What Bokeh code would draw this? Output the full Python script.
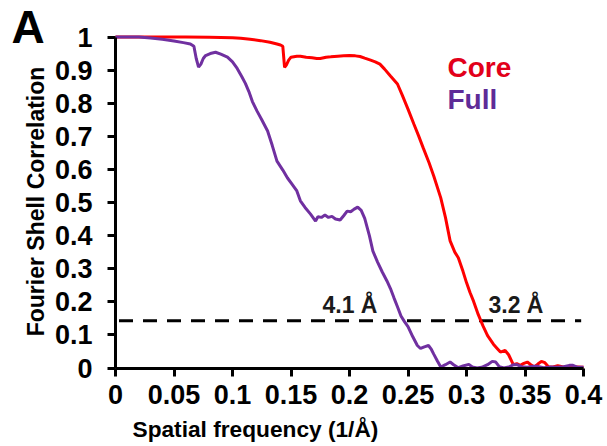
from bokeh.plotting import figure
from bokeh.models import Range1d, FixedTicker, Label
from bokeh.embed import file_html
from bokeh.resources import INLINE
import math

# ---------------- data ----------------
core_x = [0.000, 0.020, 0.040, 0.060, 0.080, 0.100, 0.107, 0.115, 0.124, 0.132, 0.138, 0.141, 0.143,
          0.1445, 0.146, 0.148, 0.150, 0.155, 0.158, 0.163, 0.168, 0.172, 0.175, 0.180, 0.184, 0.190,
          0.195, 0.200, 0.205, 0.209, 0.213, 0.218, 0.222, 0.226, 0.230, 0.235, 0.241, 0.245, 0.250,
          0.255, 0.259, 0.263, 0.268, 0.272, 0.278, 0.282, 0.286, 0.290, 0.293, 0.297, 0.300, 0.303,
          0.306, 0.310, 0.314, 0.318, 0.323, 0.326, 0.329, 0.333, 0.336, 0.340, 0.343, 0.346, 0.349,
          0.352, 0.355, 0.358, 0.361, 0.364, 0.367, 0.370, 0.374, 0.378, 0.382, 0.386, 0.390, 0.395, 0.400]
core_y = [1.000, 1.000, 1.000, 1.000, 0.999, 0.998, 0.996, 0.993, 0.989, 0.984, 0.979, 0.976, 0.972,
          0.908, 0.915, 0.930, 0.939, 0.942, 0.942, 0.939, 0.937, 0.935, 0.935, 0.939, 0.940, 0.942,
          0.943, 0.944, 0.943, 0.941, 0.936, 0.930, 0.925, 0.918, 0.903, 0.882, 0.858, 0.825, 0.782,
          0.737, 0.702, 0.665, 0.620, 0.580, 0.514, 0.455, 0.384, 0.350, 0.333, 0.292, 0.258, 0.228,
          0.202, 0.162, 0.128, 0.098, 0.072, 0.060, 0.048, 0.053, 0.040, 0.010, 0.013, 0.008, 0.014,
          0.018, 0.010, 0.003, 0.012, 0.020, 0.016, 0.004, 0.003, 0.007, 0.004, 0.002, 0.004, 0.003, 0.002]

full_x = [0.000, 0.020, 0.030, 0.040, 0.050, 0.058, 0.064, 0.067, 0.069, 0.071, 0.073, 0.075, 0.077,
          0.081, 0.0855, 0.090, 0.0957, 0.100, 0.104, 0.108, 0.111, 0.114, 0.117, 0.121, 0.125, 0.130,
          0.134, 0.138, 0.143, 0.147, 0.151, 0.155, 0.158, 0.162, 0.1667, 0.171, 0.173, 0.176, 0.179,
          0.182, 0.185, 0.188, 0.192, 0.195, 0.198, 0.201, 0.204, 0.207, 0.210, 0.213, 0.217, 0.220,
          0.224, 0.228, 0.232, 0.235, 0.238, 0.241, 0.244, 0.247, 0.250, 0.254, 0.258, 0.2607, 0.264,
          0.2675, 0.270, 0.272, 0.275, 0.278, 0.282, 0.286, 0.289, 0.293, 0.297, 0.302, 0.305, 0.309,
          0.313, 0.318, 0.322, 0.325, 0.328, 0.332, 0.337, 0.340, 0.343, 0.347, 0.352, 0.357, 0.361,
          0.366, 0.372, 0.378, 0.383, 0.388, 0.391, 0.395, 0.400]
full_y = [1.000, 1.000, 0.997, 0.993, 0.988, 0.983, 0.979, 0.972, 0.935, 0.909, 0.918, 0.935, 0.944,
          0.950, 0.954, 0.948, 0.939, 0.925, 0.905, 0.880, 0.860, 0.835, 0.805, 0.776, 0.750, 0.716,
          0.672, 0.625, 0.598, 0.574, 0.555, 0.535, 0.505, 0.485, 0.465, 0.444, 0.457, 0.455, 0.462,
          0.455, 0.458, 0.450, 0.447, 0.460, 0.474, 0.472, 0.480, 0.486, 0.476, 0.452, 0.400, 0.353,
          0.320, 0.290, 0.263, 0.240, 0.212, 0.185, 0.157, 0.140, 0.125, 0.095, 0.068, 0.059, 0.064,
          0.068, 0.056, 0.042, 0.022, 0.003, 0.010, 0.018, 0.010, 0.001, 0.006, 0.011, 0.003, 0.000,
          0.002, 0.010, 0.020, 0.018, 0.004, 0.000, 0.004, 0.010, 0.010, 0.004, 0.002, 0.005, 0.005,
          0.001, 0.003, 0.002, 0.004, 0.008, 0.008, 0.002, 0.002]

threshold_x = [0.003, 0.398]
threshold_y = [0.143, 0.143]

x_ticks = [0, 0.05, 0.1, 0.15, 0.2, 0.25, 0.3, 0.35, 0.4]
x_tick_labels = ["0", "0.05", "0.1", "0.15", "0.2", "0.25", "0.3", "0.35", "0.4"]
y_ticks = [0, 0.1, 0.2, 0.3, 0.4, 0.5, 0.6, 0.7, 0.8, 0.9, 1.0]
y_tick_labels = ["0", "0.1", "0.2", "0.3", "0.4", "0.5", "0.6", "0.7", "0.8", "0.9", "1"]

series_names = ["Core", "Full"]
res_labels = ["4.1 Å", "3.2 Å"]
panel_letter = "A"
x_title = "Spatial frequency (1/Å)"
y_title = "Fourier Shell Correlation"

# ---------------- layout (pixel geometry of the plot area) ----------------
W, H = 604, 444
X0_PX, X_SCALE = 115.0, 1170.0   # pixel of x=0, pixels per unit x
Y0_PX, Y_SCALE = 367.5, 331.0    # pixel of y=0, pixels per unit y


def px2x(px):
    return (px - X0_PX) / X_SCALE


def py2y(py):
    return (Y0_PX - py) / Y_SCALE


FONT = "Liberation Sans"
RED = "#FF0000"
PURPLE = "#7030A0"

p = figure(width=W, height=H, output_backend="svg", toolbar_location=None,
           x_range=Range1d(px2x(0), px2x(W)), y_range=Range1d(py2y(H), py2y(0)),
           min_border=0, min_border_left=0, min_border_right=0,
           min_border_top=0, min_border_bottom=0)
p.outline_line_color = None
p.grid.visible = False
p.background_fill_color = "white"
p.border_fill_color = "white"

for ax, ticks, labels, bounds in ((p.xaxis[0], x_ticks, x_tick_labels, (0, 0.4)),
                                  (p.yaxis[0], y_ticks, y_tick_labels, (0, 1.0))):
    ax.fixed_location = 0
    ax.bounds = bounds
    ax.ticker = FixedTicker(ticks=ticks)
    ax.major_label_overrides = {t: l for t, l in zip(ticks, labels)}
    ax.axis_line_width = 3
    ax.axis_line_color = "black"
    ax.major_tick_line_width = 3
    ax.major_tick_line_color = "black"
    ax.major_tick_in = 0
    ax.major_tick_out = 8
    ax.minor_tick_line_color = None
    ax.major_label_text_font = FONT
    ax.major_label_text_font_style = "bold"
    ax.major_label_text_font_size = "27px"
    ax.major_label_text_color = "black"

p.xaxis[0].major_label_standoff = 9
p.yaxis[0].major_label_standoff = 15

p.line(threshold_x, threshold_y, line_color="black", line_width=3, line_dash="14 10")
p.line(core_x, core_y, line_color=RED, line_width=3)
p.line(full_x, full_y, line_color=PURPLE, line_width=3)


def add_text(txt, px, py, size, color, align="left", angle=0.0):
    p.add_layout(Label(x=px2x(px), y=py2y(py), text=txt, text_color=color,
                       text_font=FONT, text_font_style="bold", text_font_size=size,
                       text_baseline="middle", text_align=align, angle=angle))


add_text(series_names[0], 447, 67, "28px", "#E2001A")
add_text(series_names[1], 447, 98.5, "28px", "#5E2B97")
add_text(res_labels[0], 322, 304.5, "23px", "#1a1a1a")
add_text(res_labels[1], 488, 304.5, "23px", "#1a1a1a")
add_text(panel_letter, 11, 26.5, "46px", "black")
add_text(x_title, 132, 428.5, "22.7px", "black")
add_text(y_title, 35, 201, "23px", "black", align="center", angle=math.pi / 2)

open("out.html", "w").write(file_html(p, INLINE))
